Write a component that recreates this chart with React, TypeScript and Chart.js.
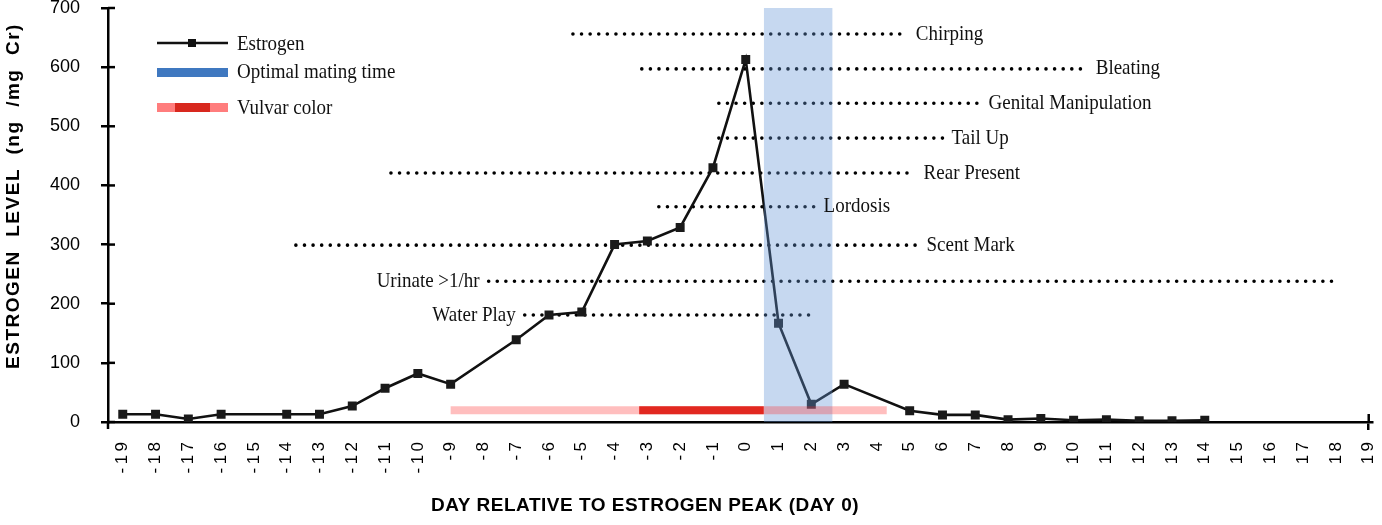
import { useEffect, useRef } from "react";
import { Chart, registerables } from "chart.js";

Chart.register(...registerables);

// ---- data ----
const DAYS = [-19, -18, -17, -16, -15, -14, -13, -12, -11, -10, -9, -8, -7, -6, -5, -4, -3, -2, -1, 0, 1, 2, 3, 4, 5, 6, 7, 8, 9, 10, 11, 12, 13, 14, 15, 16, 17, 18, 19];
const Y_TICKS = [0, 100, 200, 300, 400, 500, 600, 700];

const EST_DAYS = [-19, -18, -17, -16, -14, -13, -12, -11, -10, -9, -7, -6, -5, -4, -3, -2, -1, 0, 1, 2, 3, 5, 6, 7, 8, 9, 10, 11, 12, 13, 14];
const EST_VALUES = [13, 13, 5, 13, 13, 13, 27, 57, 82, 64, 139, 181, 186, 300, 306, 329, 430, 613, 167, 30, 64, 19, 12, 12, 4, 6, 3, 4, 2, 2, 3];

const BEHAVIORS = ["Chirping", "Bleating", "Genital Manipulation", "Tail Up", "Rear Present", "Lordosis", "Scent Mark", "Urinate >1/hr", "Water Play"];
const BEHAVIOR_START = [-5.27, -3.17, -0.82, -0.82, -10.82, -2.65, -13.72, -7.84, -6.74];
const BEHAVIOR_END = [4.91, 10.4, 7.13, 6.0, 5.15, 2.1, 5.24, 18.02, 2.1];
const BEHAVIOR_LEVEL = [656, 597, 539, 480, 421, 364, 299, 238, 181];
const LABEL_SIDE = ["right", "right", "right", "right", "right", "right", "right", "left", "left"];

const MATING_WINDOW = [0.55, 2.65];
const VULVAR_LIGHT = [-9, 4.3];
const VULVAR_DARK = [-3.25, 0.55];
const VULVAR_LEVEL = 20;

const LEGEND_LABELS = ["Estrogen", "Optimal mating time", "Vulvar color"];
const X_TITLE = "DAY RELATIVE TO ESTROGEN PEAK (DAY 0)";
const Y_TITLE = "ESTROGEN  LEVEL  (ng  /mg  Cr)";

const SERIF = "'Liberation Serif', 'Times New Roman', serif";
const SANS = "'Liberation Sans', Arial, Helvetica, sans-serif";

function tallText(ctx: any, text: string, x: number, y: number, sy: number) {
  ctx.save();
  ctx.translate(x, y);
  ctx.scale(1, sy);
  ctx.fillText(text, 0, 0);
  ctx.restore();
}

const extrasPlugin = {
  id: "extras",
  afterDatasetsDraw(chart: any) {
    const { ctx, scales } = chart;
    const x = scales.x;
    const y = scales.y;
    ctx.save();
    // behavior labels
    ctx.fillStyle = "#111";
    ctx.font = `19px ${SERIF}`;
    ctx.textBaseline = "middle";
    BEHAVIORS.forEach((name, i) => {
      const py = y.getPixelForValue(BEHAVIOR_LEVEL[i]);
      if (LABEL_SIDE[i] === "right") {
        ctx.textAlign = "left";
        tallText(ctx, name, x.getPixelForValue(BEHAVIOR_END[i]) + 9, py, 1.12);
      } else {
        ctx.textAlign = "right";
        tallText(ctx, name, x.getPixelForValue(BEHAVIOR_START[i]) - 9, py, 1.12);
      }
    });
    // inner tick halves (cross ticks)
    ctx.strokeStyle = "#000";
    ctx.lineWidth = 2.5;
    const left = chart.chartArea.left;
    Y_TICKS.forEach((v) => {
      const py = y.getPixelForValue(v);
      ctx.beginPath();
      ctx.moveTo(left, py);
      ctx.lineTo(left + 7, py);
      ctx.stroke();
    });
    const px19 = x.getPixelForValue(19);
    const bottom = chart.chartArea.bottom;
    ctx.beginPath();
    ctx.moveTo(px19, bottom);
    ctx.lineTo(px19, bottom - 8);
    ctx.stroke();
    // origin cross: y-axis poking below the x-axis
    ctx.beginPath();
    ctx.moveTo(left, bottom);
    ctx.lineTo(left, bottom + 7);
    ctx.stroke();

    // legend
    const lx0 = 157, lx1 = 228, tx = 237;
    ctx.strokeStyle = "#111";
    ctx.lineWidth = 2.5;
    ctx.beginPath();
    ctx.moveTo(lx0, 43);
    ctx.lineTo(lx1, 43);
    ctx.stroke();
    ctx.fillStyle = "#111";
    ctx.fillRect(188, 39, 8, 8);
    ctx.fillStyle = "#3f78c0";
    ctx.fillRect(lx0, 68, lx1 - lx0, 9);
    ctx.fillStyle = "#ff7d7d";
    ctx.fillRect(lx0, 103, lx1 - lx0, 9);
    ctx.fillStyle = "#d8281e";
    ctx.fillRect(175, 103, 35, 9);
    ctx.fillStyle = "#111";
    ctx.font = `19px ${SERIF}`;
    ctx.textAlign = "left";
    ctx.textBaseline = "middle";
    tallText(ctx, LEGEND_LABELS[0], tx, 44, 1.12);
    tallText(ctx, LEGEND_LABELS[1], tx, 72, 1.12);
    tallText(ctx, LEGEND_LABELS[2], tx, 108, 1.12);

    // axis titles
    ctx.textAlign = "center";
    ctx.textBaseline = "middle";
    ctx.fillStyle = "#000";
    ctx.font = `bold 19px ${SANS}`;
    (ctx as any).letterSpacing = "0.5px";
    ctx.fillText(X_TITLE, 645, 506);
    ctx.translate(14, 196);
    ctx.rotate(-Math.PI / 2);
    ctx.font = `bold 19px ${SANS}`;
    (ctx as any).letterSpacing = "1.5px";
    ctx.fillText(Y_TITLE, 0, 0);
    (ctx as any).letterSpacing = "0px";
    ctx.restore();
  },
};

export default function App() {
  const ref = useRef<HTMLCanvasElement | null>(null);

  useEffect(() => {
    if (!ref.current) return;
    const seg = (a: number[], level: number) => [
      { x: a[0], y: level },
      { x: a[1], y: level },
    ];
    const dotted = BEHAVIORS.map((name, i) => ({
      type: "line" as const,
      label: name,
      data: seg([BEHAVIOR_START[i], BEHAVIOR_END[i]], BEHAVIOR_LEVEL[i]),
      borderColor: "#000",
      borderWidth: 3.6,
      borderDash: [0, 8.6],
      borderCapStyle: "round" as const,
      pointRadius: 0,
      fill: false,
      order: 3,
    }));
    const chart = new Chart(ref.current, {
      type: "line",
      data: {
        datasets: [
          {
            label: "Vulvar light",
            data: seg(VULVAR_LIGHT, VULVAR_LEVEL),
            borderColor: "rgba(255,40,40,0.3)",
            borderWidth: 8,
            borderCapStyle: "butt",
            pointRadius: 0,
            fill: false,
            order: 0,
          },
          {
            label: "Vulvar dark",
            data: seg(VULVAR_DARK, VULVAR_LEVEL),
            borderColor: "#d6291e",
            borderWidth: 8,
            borderCapStyle: "butt",
            pointRadius: 0,
            fill: false,
            order: 0,
          },
          {
            label: "Optimal mating time",
            data: seg(MATING_WINDOW, 700),
            borderWidth: 0,
            borderColor: "rgba(0,0,0,0)",
            backgroundColor: "rgba(100,150,215,0.37)",
            pointRadius: 0,
            fill: "origin",
            order: 1,
          },
          {
            label: "Estrogen",
            data: EST_DAYS.map((d, i) => ({ x: d, y: EST_VALUES[i] })),
            borderColor: "#111",
            borderWidth: 2.6,
            pointStyle: "rect",
            pointRadius: 4.5,
            pointBackgroundColor: "#1a1a1a",
            pointBorderColor: "#1a1a1a",
            tension: 0,
            fill: false,
            order: 2,
          },
          ...dotted,
        ],
      },
      options: {
        animation: false,
        responsive: false,
        maintainAspectRatio: false,
        layout: { padding: { top: 8, right: 10, left: 0, bottom: 0 } },
        plugins: {
          legend: { display: false },
          tooltip: { enabled: false },
          title: { display: false },
        },
        scales: {
          x: {
            type: "linear",
            min: -19.45,
            max: 19.1,
            afterBuildTicks: (scale: any) => {
              scale.ticks = DAYS.map((v) => ({ value: v }));
            },
            afterFit: (scale: any) => {
              scale.height = 103;
              scale.paddingLeft = 0;
              scale.paddingRight = 0;
              scale.paddingTop = 0;
              scale.paddingBottom = 0;
            },
            border: { display: true, color: "#000", width: 2.5 },
            grid: {
              drawOnChartArea: false,
              tickLength: 8,
              lineWidth: 2.5,
              color: (c: any) => (c.tick && c.tick.value === 19 ? "#000" : "rgba(0,0,0,0)"),
            },
            ticks: {
              autoSkip: false,
              maxRotation: 90,
              minRotation: 90,
              padding: 12,
              color: "#000",
              font: { family: SANS, size: 17 },
              callback: (v: any) => String(v).split("").join("\u2009"),
            },
          },
          y: {
            min: 0,
            max: 700,
            afterBuildTicks: (scale: any) => {
              scale.ticks = Y_TICKS.map((v) => ({ value: v }));
            },
            afterFit: (scale: any) => {
              scale.width = 108;
              scale.paddingTop = 0;
              scale.paddingBottom = 0;
              scale.paddingLeft = 0;
              scale.paddingRight = 0;
            },
            border: { display: true, color: "#000", width: 2.5 },
            grid: {
              drawOnChartArea: false,
              tickLength: 7,
              lineWidth: 2.5,
              color: "#000",
            },
            ticks: {
              padding: 21,
              color: "#000",
              font: { family: SANS, size: 18 },
            },
          },
        },
      },
      plugins: [extrasPlugin],
    } as any);
    return () => chart.destroy();
  }, []);

  return (
    <div style={{ position: "fixed", left: 0, top: 0, width: 1382, height: 525, background: "#fff" }}>
      <canvas ref={ref} width={1382} height={525} style={{ display: "block", width: 1382, height: 525 }} />
    </div>
  );
}
